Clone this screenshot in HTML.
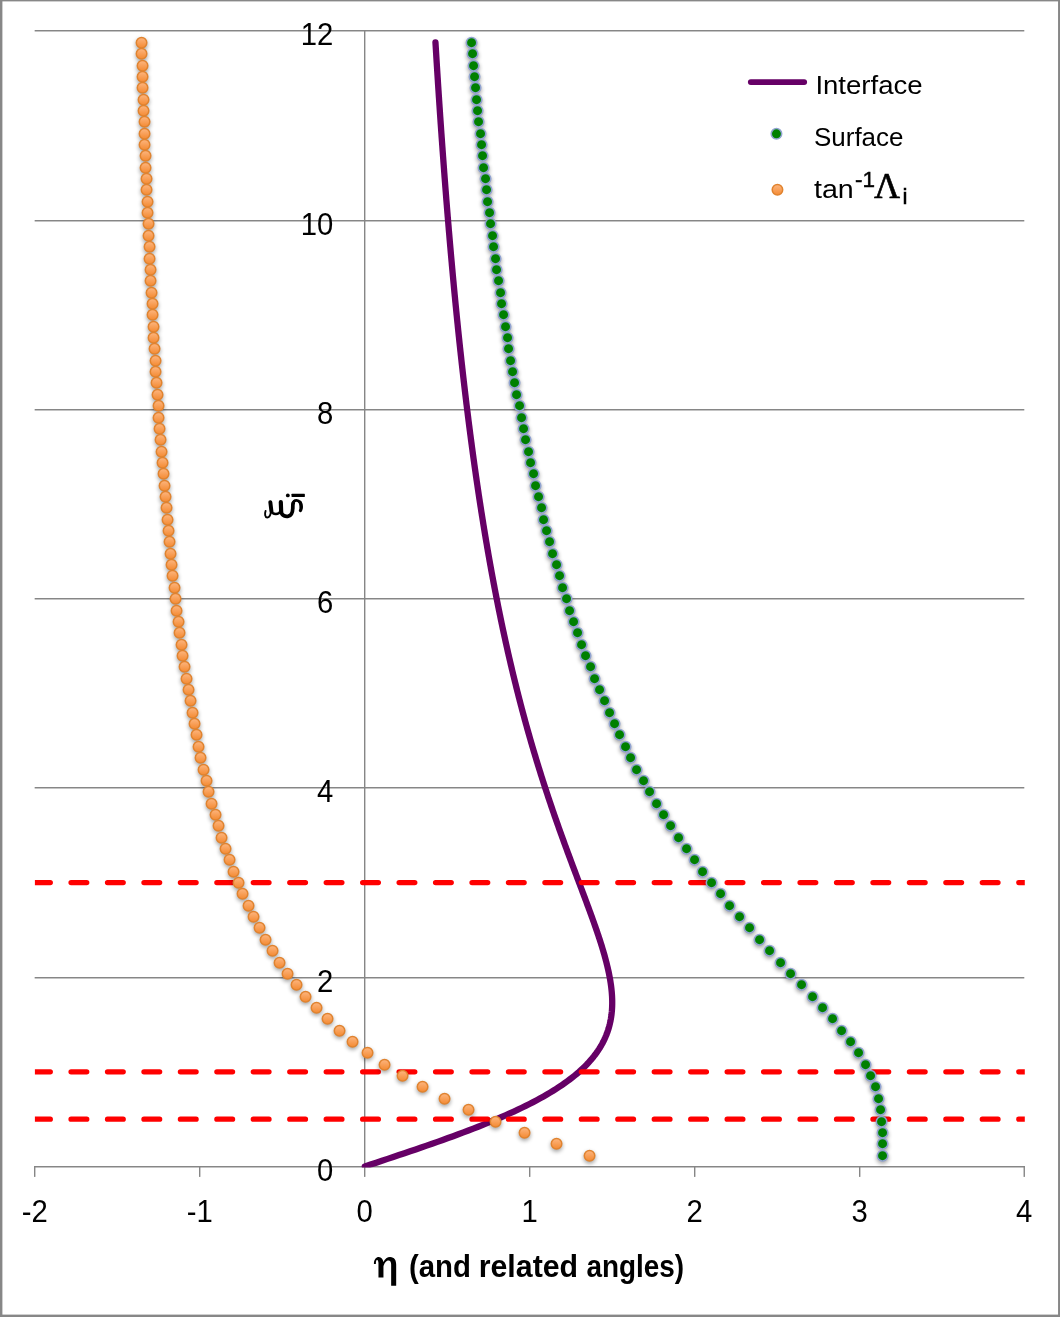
<!DOCTYPE html>
<html><head><meta charset="utf-8"><title>Bipolytrope angles</title>
<style>html,body{margin:0;padding:0;background:#fff;}svg{display:block;will-change:transform;}text{font-family:"Liberation Sans",sans-serif;fill:#000;}.ser{font-family:"Liberation Serif",serif;}</style></head><body>
<svg width="1060" height="1317" viewBox="0 0 1060 1317">
<defs>
<linearGradient id="og" x1="0" y1="0" x2="0" y2="1"><stop offset="0" stop-color="#fdb680"/><stop offset="1" stop-color="#f48a32"/></linearGradient>
<filter id="sh" x="-5%" y="-5%" width="110%" height="110%" color-interpolation-filters="sRGB"><feGaussianBlur in="SourceAlpha" stdDeviation="2"/><feOffset dx="0" dy="2.4" result="b"/><feComponentTransfer><feFuncA type="linear" slope="0.38"/></feComponentTransfer><feMerge><feMergeNode/><feMergeNode in="SourceGraphic"/></feMerge></filter>
<clipPath id="pc"><rect x="34.9" y="25" width="989.90" height="1142.40"/></clipPath>
</defs>
<rect x="0" y="0" width="1060" height="1317" fill="#fff"/>
<g fill="#878787"><rect x="0" y="0" width="1060" height="1.4"/><rect x="0" y="0" width="2.4" height="1317"/><rect x="1058.05" y="0" width="1.95" height="1317"/><rect x="0" y="1314.6" width="1060" height="2.4"/></g>
<g fill="#868686">
<rect x="34.66" y="30" width="989.64" height="1.48"/>
<rect x="34.66" y="220" width="989.64" height="1.48"/>
<rect x="34.66" y="409" width="989.64" height="1.48"/>
<rect x="34.66" y="598" width="989.64" height="1.48"/>
<rect x="34.66" y="787" width="989.64" height="1.48"/>
<rect x="34.66" y="977" width="989.64" height="1.48"/>
<rect x="34" y="1166" width="990.95" height="1.48"/>
<rect x="364" y="30" width="1.4" height="1137.4"/>
<rect x="34" y="1166" width="1.4" height="10.9"/>
<rect x="199" y="1166" width="1.4" height="10.9"/>
<rect x="364" y="1166" width="1.4" height="10.9"/>
<rect x="529" y="1166" width="1.4" height="10.9"/>
<rect x="694" y="1166" width="1.4" height="10.9"/>
<rect x="859" y="1166" width="1.4" height="10.9"/>
<rect x="1023.55" y="1166" width="1.4" height="10.9"/>
</g>
<g clip-path="url(#pc)">
<path d="M364.82,1166.45 L370.53,1164.56 L376.24,1162.66 L381.94,1160.77 L387.62,1158.88 L393.29,1156.99 L398.94,1155.10 L404.55,1153.20 L410.14,1151.31 L415.69,1149.42 L421.20,1147.53 L426.67,1145.63 L432.09,1143.74 L437.46,1141.85 L442.77,1139.96 L448.02,1138.06 L453.22,1136.17 L458.34,1134.28 L463.40,1132.38 L468.39,1130.49 L473.30,1128.60 L478.14,1126.71 L482.89,1124.82 L487.57,1122.92 L492.16,1121.03 L496.67,1119.14 L501.08,1117.25 L505.41,1115.35 L509.65,1113.46 L513.80,1111.57 L517.86,1109.67 L521.82,1107.78 L525.68,1105.89 L529.46,1104.00 L533.13,1102.11 L536.71,1100.21 L540.20,1098.32 L543.58,1096.43 L546.88,1094.54 L550.07,1092.64 L553.17,1090.75 L556.18,1088.86 L559.09,1086.97 L561.91,1085.07 L564.63,1083.18 L567.26,1081.29 L569.80,1079.39 L572.25,1077.50 L574.61,1075.61 L576.88,1073.72 L579.07,1071.83 L581.17,1069.93 L583.19,1068.04 L585.12,1066.15 L586.97,1064.26 L588.74,1062.36 L590.43,1060.47 L592.05,1058.58 L593.59,1056.68 L595.05,1054.79 L596.44,1052.90 L597.76,1051.01 L599.01,1049.12 L600.20,1047.22 L601.32,1045.33 L602.37,1043.44 L603.36,1041.55 L604.29,1039.65 L605.15,1037.76 L605.96,1035.87 L606.72,1033.97 L607.41,1032.08 L608.06,1030.19 L608.65,1028.30 L609.19,1026.40 L609.68,1024.51 L610.12,1022.62 L610.52,1020.73 L610.87,1018.84 L611.17,1016.94 L611.44,1015.05 L611.66,1013.16 L611.85,1011.27 L611.99,1009.37 L612.10,1007.48 L612.17,1005.59 L612.21,1003.70 L612.21,1001.80 L612.18,999.91 L612.12,998.02 L612.03,996.12 L611.91,994.23 L611.76,992.34 L611.59,990.45 L611.39,988.56 L611.16,986.66 L610.91,984.77 L610.63,982.88 L610.34,980.99 L610.02,979.09 L609.68,977.20 L609.32,975.31 L608.94,973.42 L608.54,971.52 L608.13,969.63 L607.69,967.74 L607.25,965.85 L606.78,963.95 L606.30,962.06 L605.81,960.17 L605.31,958.28 L604.79,956.38 L604.25,954.49 L603.71,952.60 L603.15,950.71 L602.59,948.81 L602.01,946.92 L601.43,945.03 L600.83,943.13 L600.23,941.24 L599.61,939.35 L598.99,937.46 L598.37,935.57 L597.73,933.67 L597.09,931.78 L596.44,929.89 L595.79,928.00 L595.13,926.10 L594.46,924.21 L593.79,922.32 L593.12,920.43 L592.44,918.53 L591.76,916.64 L591.07,914.75 L590.38,912.86 L589.69,910.96 L588.99,909.07 L588.29,907.18 L587.59,905.29 L586.89,903.39 L586.19,901.50 L585.48,899.61 L584.77,897.72 L584.06,895.82 L583.35,893.93 L582.64,892.04 L581.93,890.14 L581.21,888.25 L580.50,886.36 L579.78,884.47 L579.07,882.58 L578.36,880.68 L577.64,878.79 L576.93,876.90 L576.22,875.00 L575.50,873.11 L574.79,871.22 L574.08,869.33 L573.37,867.44 L572.66,865.54 L571.95,863.65 L571.24,861.76 L570.54,859.87 L569.83,857.97 L569.13,856.08 L568.43,854.19 L567.73,852.30 L567.03,850.40 L566.33,848.51 L565.64,846.62 L564.94,844.73 L564.25,842.83 L563.56,840.94 L562.88,839.05 L562.19,837.15 L561.51,835.26 L560.83,833.37 L560.15,831.48 L559.47,829.59 L558.80,827.69 L558.13,825.80 L557.46,823.91 L556.79,822.01 L556.13,820.12 L555.47,818.23 L554.81,816.34 L554.15,814.44 L553.50,812.55 L552.85,810.66 L552.20,808.77 L551.55,806.88 L550.91,804.98 L550.27,803.09 L549.63,801.20 L548.99,799.31 L548.36,797.41 L547.73,795.52 L547.11,793.63 L546.48,791.74 L545.86,789.84 L545.24,787.95 L544.63,786.06 L544.01,784.16 L543.40,782.27 L542.79,780.38 L542.19,778.49 L541.59,776.60 L540.99,774.70 L540.39,772.81 L539.80,770.92 L539.21,769.03 L538.62,767.13 L538.04,765.24 L537.46,763.35 L536.88,761.46 L536.30,759.56 L535.73,757.67 L535.16,755.78 L534.59,753.88 L534.02,751.99 L533.46,750.10 L532.90,748.21 L532.34,746.32 L531.79,744.42 L531.24,742.53 L530.69,740.64 L530.15,738.75 L529.60,736.85 L529.06,734.96 L528.53,733.07 L527.99,731.17 L527.46,729.28 L526.93,727.39 L526.40,725.50 L525.88,723.61 L525.36,721.71 L524.84,719.82 L524.32,717.93 L523.81,716.04 L523.30,714.14 L522.79,712.25 L522.29,710.36 L521.78,708.47 L521.28,706.57 L520.79,704.68 L520.29,702.79 L519.80,700.89 L519.31,699.00 L518.82,697.11 L518.34,695.22 L517.86,693.33 L517.38,691.43 L516.90,689.54 L516.42,687.65 L515.95,685.76 L515.48,683.86 L515.01,681.97 L514.55,680.08 L514.09,678.18 L513.63,676.29 L513.17,674.40 L512.71,672.51 L512.26,670.62 L511.81,668.72 L511.36,666.83 L510.92,664.94 L510.47,663.05 L510.03,661.15 L509.59,659.26 L509.15,657.37 L508.72,655.48 L508.29,653.58 L507.86,651.69 L507.43,649.80 L507.00,647.90 L506.58,646.01 L506.16,644.12 L505.74,642.23 L505.32,640.34 L504.91,638.44 L504.49,636.55 L504.08,634.66 L503.68,632.76 L503.27,630.87 L502.86,628.98 L502.46,627.09 L502.06,625.19 L501.66,623.30 L501.27,621.41 L500.87,619.52 L500.48,617.62 L500.09,615.73 L499.70,613.84 L499.32,611.95 L498.93,610.05 L498.55,608.16 L498.17,606.27 L497.79,604.38 L497.41,602.49 L497.04,600.59 L496.67,598.70 L496.30,596.81 L495.93,594.92 L495.56,593.02 L495.19,591.13 L494.83,589.24 L494.47,587.35 L494.11,585.45 L493.75,583.56 L493.39,581.67 L493.04,579.77 L492.69,577.88 L492.34,575.99 L491.99,574.10 L491.64,572.21 L491.29,570.31 L490.95,568.42 L490.61,566.53 L490.26,564.63 L489.93,562.74 L489.59,560.85 L489.25,558.96 L488.92,557.07 L488.59,555.17 L488.25,553.28 L487.93,551.39 L487.60,549.50 L487.27,547.60 L486.95,545.71 L486.62,543.82 L486.30,541.92 L485.98,540.03 L485.66,538.14 L485.35,536.25 L485.03,534.36 L484.72,532.46 L484.41,530.57 L484.09,528.68 L483.79,526.79 L483.48,524.89 L483.17,523.00 L482.87,521.11 L482.56,519.21 L482.26,517.32 L481.96,515.43 L481.66,513.54 L481.36,511.64 L481.07,509.75 L480.77,507.86 L480.48,505.97 L480.19,504.08 L479.89,502.18 L479.61,500.29 L479.32,498.40 L479.03,496.50 L478.74,494.61 L478.46,492.72 L478.18,490.83 L477.90,488.94 L477.62,487.04 L477.34,485.15 L477.06,483.26 L476.78,481.36 L476.51,479.47 L476.23,477.58 L475.96,475.69 L475.69,473.80 L475.42,471.90 L475.15,470.01 L474.88,468.12 L474.62,466.23 L474.35,464.33 L474.09,462.44 L473.82,460.55 L473.56,458.66 L473.30,456.76 L473.04,454.87 L472.78,452.98 L472.53,451.09 L472.27,449.19 L472.02,447.30 L471.76,445.41 L471.51,443.52 L471.26,441.62 L471.01,439.73 L470.76,437.84 L470.51,435.94 L470.26,434.05 L470.02,432.16 L469.77,430.27 L469.53,428.37 L469.29,426.48 L469.04,424.59 L468.80,422.70 L468.56,420.80 L468.33,418.91 L468.09,417.02 L467.85,415.13 L467.62,413.24 L467.38,411.34 L467.15,409.45 L466.92,407.56 L466.68,405.66 L466.45,403.77 L466.22,401.88 L466.00,399.99 L465.77,398.09 L465.54,396.20 L465.32,394.31 L465.09,392.42 L464.87,390.52 L464.65,388.63 L464.42,386.74 L464.20,384.85 L463.98,382.95 L463.76,381.06 L463.55,379.17 L463.33,377.28 L463.11,375.39 L462.90,373.49 L462.68,371.60 L462.47,369.71 L462.26,367.81 L462.05,365.92 L461.83,364.03 L461.62,362.14 L461.41,360.25 L461.21,358.35 L461.00,356.46 L460.79,354.57 L460.59,352.67 L460.38,350.78 L460.18,348.89 L459.97,347.00 L459.77,345.11 L459.57,343.21 L459.37,341.32 L459.17,339.43 L458.97,337.53 L458.77,335.64 L458.57,333.75 L458.38,331.86 L458.18,329.97 L457.99,328.07 L457.79,326.18 L457.60,324.29 L457.41,322.40 L457.21,320.50 L457.02,318.61 L456.83,316.72 L456.64,314.83 L456.45,312.93 L456.26,311.04 L456.08,309.15 L455.89,307.25 L455.70,305.36 L455.52,303.47 L455.33,301.58 L455.15,299.69 L454.97,297.79 L454.78,295.90 L454.60,294.01 L454.42,292.12 L454.24,290.22 L454.06,288.33 L453.88,286.44 L453.70,284.55 L453.53,282.65 L453.35,280.76 L453.17,278.87 L453.00,276.98 L452.82,275.08 L452.65,273.19 L452.47,271.30 L452.30,269.40 L452.13,267.51 L451.96,265.62 L451.79,263.73 L451.62,261.84 L451.45,259.94 L451.28,258.05 L451.11,256.16 L450.94,254.26 L450.77,252.37 L450.61,250.48 L450.44,248.59 L450.28,246.69 L450.11,244.80 L449.95,242.91 L449.78,241.02 L449.62,239.12 L449.46,237.23 L449.30,235.34 L449.14,233.45 L448.97,231.55 L448.81,229.66 L448.66,227.77 L448.50,225.88 L448.34,223.99 L448.18,222.09 L448.02,220.20 L447.87,218.31 L447.71,216.41 L447.56,214.52 L447.40,212.63 L447.25,210.74 L447.09,208.84 L446.94,206.95 L446.79,205.06 L446.64,203.17 L446.48,201.27 L446.33,199.38 L446.18,197.49 L446.03,195.60 L445.88,193.70 L445.74,191.81 L445.59,189.92 L445.44,188.03 L445.29,186.14 L445.15,184.24 L445.00,182.35 L444.85,180.46 L444.71,178.56 L444.56,176.67 L444.42,174.78 L444.28,172.89 L444.13,171.00 L443.99,169.10 L443.85,167.21 L443.71,165.32 L443.57,163.42 L443.43,161.53 L443.29,159.64 L443.15,157.75 L443.01,155.86 L442.87,153.96 L442.73,152.07 L442.59,150.18 L442.46,148.28 L442.32,146.39 L442.18,144.50 L442.05,142.61 L441.91,140.72 L441.78,138.82 L441.64,136.93 L441.51,135.04 L441.37,133.14 L441.24,131.25 L441.11,129.36 L440.98,127.47 L440.84,125.58 L440.71,123.68 L440.58,121.79 L440.45,119.90 L440.32,118.01 L440.19,116.11 L440.06,114.22 L439.93,112.33 L439.81,110.43 L439.68,108.54 L439.55,106.65 L439.42,104.76 L439.30,102.87 L439.17,100.97 L439.05,99.08 L438.92,97.19 L438.79,95.29 L438.67,93.40 L438.55,91.51 L438.42,89.62 L438.30,87.72 L438.18,85.83 L438.05,83.94 L437.93,82.05 L437.81,80.15 L437.69,78.26 L437.57,76.37 L437.45,74.48 L437.33,72.59 L437.21,70.69 L437.09,68.80 L436.97,66.91 L436.85,65.02 L436.73,63.12 L436.61,61.23 L436.50,59.34 L436.38,57.44 L436.26,55.55 L436.15,53.66 L436.03,51.77 L435.92,49.88 L435.80,47.98 L435.69,46.09 L435.57,44.20 L435.46,42.31" fill="none" stroke="#660066" stroke-width="6.3" stroke-linejoin="round" stroke-linecap="round"/>
<line x1="34.66" y1="882.58" x2="1030" y2="882.58" stroke="#ff0000" stroke-width="5.4" stroke-linecap="round" stroke-dasharray="15.6 20.85"/>
<line x1="34.66" y1="1071.83" x2="1030" y2="1071.83" stroke="#ff0000" stroke-width="5.4" stroke-linecap="round" stroke-dasharray="15.6 20.85"/>
<line x1="34.66" y1="1119.14" x2="1030" y2="1119.14" stroke="#ff0000" stroke-width="5.4" stroke-linecap="round" stroke-dasharray="15.6 20.85"/>
</g>
<g filter="url(#sh)">
<g fill="#008000" stroke="#90a3d0" stroke-width="1.55">
<circle cx="882.55" cy="1155.70" r="5.25"/>
<circle cx="882.55" cy="1143.70" r="5.25"/>
<circle cx="882.55" cy="1132.70" r="5.25"/>
<circle cx="881.55" cy="1121.70" r="5.25"/>
<circle cx="880.55" cy="1109.70" r="5.25"/>
<circle cx="878.55" cy="1098.70" r="5.25"/>
<circle cx="875.55" cy="1086.70" r="5.25"/>
<circle cx="870.55" cy="1075.70" r="5.25"/>
<circle cx="865.55" cy="1064.70" r="5.25"/>
<circle cx="858.55" cy="1052.70" r="5.25"/>
<circle cx="850.55" cy="1041.70" r="5.25"/>
<circle cx="841.55" cy="1030.70" r="5.25"/>
<circle cx="832.55" cy="1018.70" r="5.25"/>
<circle cx="822.55" cy="1007.70" r="5.25"/>
<circle cx="812.55" cy="996.70" r="5.25"/>
<circle cx="801.55" cy="984.70" r="5.25"/>
<circle cx="790.55" cy="973.70" r="5.25"/>
<circle cx="780.55" cy="962.70" r="5.25"/>
<circle cx="769.55" cy="950.70" r="5.25"/>
<circle cx="759.55" cy="939.70" r="5.25"/>
<circle cx="749.55" cy="927.70" r="5.25"/>
<circle cx="739.55" cy="916.70" r="5.25"/>
<circle cx="729.55" cy="905.70" r="5.25"/>
<circle cx="720.55" cy="893.70" r="5.25"/>
<circle cx="711.55" cy="882.70" r="5.25"/>
<circle cx="702.55" cy="871.70" r="5.25"/>
<circle cx="694.55" cy="859.70" r="5.25"/>
<circle cx="686.55" cy="848.70" r="5.25"/>
<circle cx="678.55" cy="837.70" r="5.25"/>
<circle cx="670.55" cy="825.70" r="5.25"/>
<circle cx="663.55" cy="814.70" r="5.25"/>
<circle cx="656.55" cy="803.70" r="5.25"/>
<circle cx="649.55" cy="791.70" r="5.25"/>
<circle cx="643.55" cy="780.70" r="5.25"/>
<circle cx="636.55" cy="769.70" r="5.25"/>
<circle cx="630.55" cy="757.70" r="5.25"/>
<circle cx="625.55" cy="746.70" r="5.25"/>
<circle cx="619.55" cy="734.70" r="5.25"/>
<circle cx="614.55" cy="723.70" r="5.25"/>
<circle cx="609.55" cy="712.70" r="5.25"/>
<circle cx="604.55" cy="700.70" r="5.25"/>
<circle cx="599.55" cy="689.70" r="5.25"/>
<circle cx="594.55" cy="678.70" r="5.25"/>
<circle cx="590.55" cy="666.70" r="5.25"/>
<circle cx="585.55" cy="655.70" r="5.25"/>
<circle cx="581.55" cy="644.70" r="5.25"/>
<circle cx="577.55" cy="632.70" r="5.25"/>
<circle cx="573.55" cy="621.70" r="5.25"/>
<circle cx="569.55" cy="610.70" r="5.25"/>
<circle cx="566.55" cy="598.70" r="5.25"/>
<circle cx="562.55" cy="587.70" r="5.25"/>
<circle cx="559.55" cy="575.70" r="5.25"/>
<circle cx="556.55" cy="564.70" r="5.25"/>
<circle cx="552.55" cy="553.70" r="5.25"/>
<circle cx="549.55" cy="541.70" r="5.25"/>
<circle cx="546.55" cy="530.70" r="5.25"/>
<circle cx="543.55" cy="519.70" r="5.25"/>
<circle cx="541.55" cy="507.70" r="5.25"/>
<circle cx="538.55" cy="496.70" r="5.25"/>
<circle cx="535.55" cy="485.70" r="5.25"/>
<circle cx="533.55" cy="473.70" r="5.25"/>
<circle cx="530.55" cy="462.70" r="5.25"/>
<circle cx="528.55" cy="451.70" r="5.25"/>
<circle cx="525.55" cy="439.70" r="5.25"/>
<circle cx="523.55" cy="428.70" r="5.25"/>
<circle cx="521.55" cy="417.70" r="5.25"/>
<circle cx="519.55" cy="405.70" r="5.25"/>
<circle cx="516.55" cy="394.70" r="5.25"/>
<circle cx="514.55" cy="382.70" r="5.25"/>
<circle cx="512.55" cy="371.70" r="5.25"/>
<circle cx="510.55" cy="360.70" r="5.25"/>
<circle cx="508.55" cy="348.70" r="5.25"/>
<circle cx="507.55" cy="337.70" r="5.25"/>
<circle cx="505.55" cy="326.70" r="5.25"/>
<circle cx="503.55" cy="314.70" r="5.25"/>
<circle cx="501.55" cy="303.70" r="5.25"/>
<circle cx="500.55" cy="292.70" r="5.25"/>
<circle cx="498.55" cy="280.70" r="5.25"/>
<circle cx="496.55" cy="269.70" r="5.25"/>
<circle cx="495.55" cy="258.70" r="5.25"/>
<circle cx="493.55" cy="246.70" r="5.25"/>
<circle cx="492.55" cy="235.70" r="5.25"/>
<circle cx="490.55" cy="223.70" r="5.25"/>
<circle cx="489.55" cy="212.70" r="5.25"/>
<circle cx="487.55" cy="201.70" r="5.25"/>
<circle cx="486.55" cy="189.70" r="5.25"/>
<circle cx="485.55" cy="178.70" r="5.25"/>
<circle cx="483.55" cy="167.70" r="5.25"/>
<circle cx="482.55" cy="155.70" r="5.25"/>
<circle cx="481.55" cy="144.70" r="5.25"/>
<circle cx="480.55" cy="133.70" r="5.25"/>
<circle cx="478.55" cy="121.70" r="5.25"/>
<circle cx="477.55" cy="110.70" r="5.25"/>
<circle cx="476.55" cy="99.70" r="5.25"/>
<circle cx="475.55" cy="87.70" r="5.25"/>
<circle cx="474.55" cy="76.70" r="5.25"/>
<circle cx="473.55" cy="65.70" r="5.25"/>
<circle cx="472.55" cy="53.70" r="5.25"/>
<circle cx="471.55" cy="42.70" r="5.25"/>
</g>
<g fill="url(#og)" stroke="#e0832f" stroke-width="1.5">
<circle cx="589.55" cy="1155.70" r="5.25"/>
<circle cx="556.55" cy="1143.70" r="5.25"/>
<circle cx="524.55" cy="1132.70" r="5.25"/>
<circle cx="495.55" cy="1121.70" r="5.25"/>
<circle cx="468.55" cy="1109.70" r="5.25"/>
<circle cx="444.55" cy="1098.70" r="5.25"/>
<circle cx="422.55" cy="1086.70" r="5.25"/>
<circle cx="402.55" cy="1075.70" r="5.25"/>
<circle cx="384.55" cy="1064.70" r="5.25"/>
<circle cx="367.55" cy="1052.70" r="5.25"/>
<circle cx="352.55" cy="1041.70" r="5.25"/>
<circle cx="339.55" cy="1030.70" r="5.25"/>
<circle cx="327.55" cy="1018.70" r="5.25"/>
<circle cx="316.55" cy="1007.70" r="5.25"/>
<circle cx="305.55" cy="996.70" r="5.25"/>
<circle cx="296.55" cy="984.70" r="5.25"/>
<circle cx="287.55" cy="973.70" r="5.25"/>
<circle cx="279.55" cy="962.70" r="5.25"/>
<circle cx="272.55" cy="950.70" r="5.25"/>
<circle cx="265.55" cy="939.70" r="5.25"/>
<circle cx="259.55" cy="927.70" r="5.25"/>
<circle cx="253.55" cy="916.70" r="5.25"/>
<circle cx="248.55" cy="905.70" r="5.25"/>
<circle cx="242.55" cy="893.70" r="5.25"/>
<circle cx="238.55" cy="882.70" r="5.25"/>
<circle cx="233.55" cy="871.70" r="5.25"/>
<circle cx="229.55" cy="859.70" r="5.25"/>
<circle cx="225.55" cy="848.70" r="5.25"/>
<circle cx="221.55" cy="837.70" r="5.25"/>
<circle cx="218.55" cy="825.70" r="5.25"/>
<circle cx="215.55" cy="814.70" r="5.25"/>
<circle cx="211.55" cy="803.70" r="5.25"/>
<circle cx="208.55" cy="791.70" r="5.25"/>
<circle cx="206.55" cy="780.70" r="5.25"/>
<circle cx="203.55" cy="769.70" r="5.25"/>
<circle cx="200.55" cy="757.70" r="5.25"/>
<circle cx="198.55" cy="746.70" r="5.25"/>
<circle cx="196.55" cy="734.70" r="5.25"/>
<circle cx="194.55" cy="723.70" r="5.25"/>
<circle cx="192.55" cy="712.70" r="5.25"/>
<circle cx="190.55" cy="700.70" r="5.25"/>
<circle cx="188.55" cy="689.70" r="5.25"/>
<circle cx="186.55" cy="678.70" r="5.25"/>
<circle cx="184.55" cy="666.70" r="5.25"/>
<circle cx="182.55" cy="655.70" r="5.25"/>
<circle cx="181.55" cy="644.70" r="5.25"/>
<circle cx="179.55" cy="632.70" r="5.25"/>
<circle cx="178.55" cy="621.70" r="5.25"/>
<circle cx="176.55" cy="610.70" r="5.25"/>
<circle cx="175.55" cy="598.70" r="5.25"/>
<circle cx="174.55" cy="587.70" r="5.25"/>
<circle cx="172.55" cy="575.70" r="5.25"/>
<circle cx="171.55" cy="564.70" r="5.25"/>
<circle cx="170.55" cy="553.70" r="5.25"/>
<circle cx="169.55" cy="541.70" r="5.25"/>
<circle cx="168.55" cy="530.70" r="5.25"/>
<circle cx="167.55" cy="519.70" r="5.25"/>
<circle cx="166.55" cy="507.70" r="5.25"/>
<circle cx="165.55" cy="496.70" r="5.25"/>
<circle cx="164.55" cy="485.70" r="5.25"/>
<circle cx="163.55" cy="473.70" r="5.25"/>
<circle cx="162.55" cy="462.70" r="5.25"/>
<circle cx="161.55" cy="451.70" r="5.25"/>
<circle cx="160.55" cy="439.70" r="5.25"/>
<circle cx="159.55" cy="428.70" r="5.25"/>
<circle cx="158.55" cy="417.70" r="5.25"/>
<circle cx="158.55" cy="405.70" r="5.25"/>
<circle cx="157.55" cy="394.70" r="5.25"/>
<circle cx="156.55" cy="382.70" r="5.25"/>
<circle cx="155.55" cy="371.70" r="5.25"/>
<circle cx="155.55" cy="360.70" r="5.25"/>
<circle cx="154.55" cy="348.70" r="5.25"/>
<circle cx="153.55" cy="337.70" r="5.25"/>
<circle cx="153.55" cy="326.70" r="5.25"/>
<circle cx="152.55" cy="314.70" r="5.25"/>
<circle cx="152.55" cy="303.70" r="5.25"/>
<circle cx="151.55" cy="292.70" r="5.25"/>
<circle cx="150.55" cy="280.70" r="5.25"/>
<circle cx="150.55" cy="269.70" r="5.25"/>
<circle cx="149.55" cy="258.70" r="5.25"/>
<circle cx="149.55" cy="246.70" r="5.25"/>
<circle cx="148.55" cy="235.70" r="5.25"/>
<circle cx="148.55" cy="223.70" r="5.25"/>
<circle cx="147.55" cy="212.70" r="5.25"/>
<circle cx="147.55" cy="201.70" r="5.25"/>
<circle cx="146.55" cy="189.70" r="5.25"/>
<circle cx="146.55" cy="178.70" r="5.25"/>
<circle cx="145.55" cy="167.70" r="5.25"/>
<circle cx="145.55" cy="155.70" r="5.25"/>
<circle cx="144.55" cy="144.70" r="5.25"/>
<circle cx="144.55" cy="133.70" r="5.25"/>
<circle cx="144.55" cy="121.70" r="5.25"/>
<circle cx="143.55" cy="110.70" r="5.25"/>
<circle cx="143.55" cy="99.70" r="5.25"/>
<circle cx="142.55" cy="87.70" r="5.25"/>
<circle cx="142.55" cy="76.70" r="5.25"/>
<circle cx="142.55" cy="65.70" r="5.25"/>
<circle cx="141.55" cy="53.70" r="5.25"/>
<circle cx="141.55" cy="42.70" r="5.25"/>
</g>
</g>
<text transform="translate(333.3,45.2) scale(0.957,1.0)" font-size="30.6" text-anchor="end">12</text>
<text transform="translate(333.3,235.2) scale(0.957,1.0)" font-size="30.6" text-anchor="end">10</text>
<text transform="translate(333.3,424.3) scale(0.957,1.0)" font-size="30.6" text-anchor="end">8</text>
<text transform="translate(333.3,613.3) scale(0.957,1.0)" font-size="30.6" text-anchor="end">6</text>
<text transform="translate(333.3,802.3) scale(0.957,1.0)" font-size="30.6" text-anchor="end">4</text>
<text transform="translate(333.3,992.3) scale(0.957,1.0)" font-size="30.6" text-anchor="end">2</text>
<text transform="translate(333.3,1181.1) scale(0.957,1.0)" font-size="30.6" text-anchor="end">0</text>
<text transform="translate(34.66,1222.0) scale(0.957,1.0)" font-size="30.6" text-anchor="middle">-2</text>
<text transform="translate(199.66,1222.0) scale(0.957,1.0)" font-size="30.6" text-anchor="middle">-1</text>
<text transform="translate(364.66,1222.0) scale(0.957,1.0)" font-size="30.6" text-anchor="middle">0</text>
<text transform="translate(529.66,1222.0) scale(0.957,1.0)" font-size="30.6" text-anchor="middle">1</text>
<text transform="translate(694.66,1222.0) scale(0.957,1.0)" font-size="30.6" text-anchor="middle">2</text>
<text transform="translate(859.66,1222.0) scale(0.957,1.0)" font-size="30.6" text-anchor="middle">3</text>
<text transform="translate(1024.25,1222.0) scale(0.957,1.0)" font-size="30.6" text-anchor="middle">4</text>
<path transform="translate(365,1245) scale(0.0566)" fill="#000" d="M158,336 C153,262 198,210 245,212 C288,214 316,248 325,300 C350,244 400,210 445,212 C520,215 551,268 551,350 L551,721 L462,721 L462,350 C462,302 445,276 415,276 C376,276 340,322 326,382 L326,573 L238,573 L238,332 C238,290 230,266 214,263 C198,261 192,290 192,336 Z"/>
<text transform="translate(409,1277) scale(0.948,1.0)" font-size="31" font-weight="bold">(and</text>
<text transform="translate(478.7,1277) scale(0.978,1.0)" font-size="31" font-weight="bold">related</text>
<text transform="translate(586.5,1277) scale(0.9,1.0)" font-size="31" font-weight="bold">angles)</text>
<g transform="translate(255,480) scale(0.0566)" fill="none" stroke="#000" stroke-linecap="round" stroke-linejoin="round"><path d="M187,548 C168,600 178,662 216,662 C252,662 274,620 282,560" stroke-width="34"/><path d="M271,392 L290,552" stroke-width="70"/><path d="M290,552 C312,612 418,622 450,552" stroke-width="42"/><path d="M456,392 L462,555" stroke-width="74"/><path d="M462,555 C472,640 548,646 590,638 C646,626 668,560 668,480 C668,440 670,420 674,410" stroke-width="66"/><path d="M668,430 C672,380 700,360 735,360 C790,360 816,420 812,490" stroke-width="46"/><path d="M796,392 C822,436 826,486 804,538" stroke-width="58"/><circle cx="580" cy="272" r="34" fill="#000" stroke="none"/><rect x="645" y="245" width="236" height="56" rx="8" fill="#000" stroke="none"/></g>
<line x1="750.8" y1="82.1" x2="804.2" y2="82.1" stroke="#660066" stroke-width="5.8" stroke-linecap="round"/>
<circle cx="776.45" cy="133.8" r="5.25" fill="#008000" stroke="#90a3d0" stroke-width="1.55"/>
<circle cx="777.45" cy="189.8" r="5.25" fill="url(#og)" stroke="#e0832f" stroke-width="1.5"/>
<text transform="translate(815.4,94.4) scale(1.04,1.0)" font-size="26.5">Interface</text>
<text transform="translate(814,145.5) scale(0.98,1.0)" font-size="26.5">Surface</text>
<text transform="translate(814,197.5) scale(1.08,1.0)" font-size="26.5">tan</text>
<text transform="translate(855,187)" font-size="22.5" stroke="#000" stroke-width="0.45">-1</text>
<text transform="translate(874,198.4)" font-size="36" class="ser" stroke="#000" stroke-width="0.6">Λ</text>
<text transform="translate(902.6,204.4)" font-size="22.5" stroke="#000" stroke-width="0.5">i</text>
</svg></body></html>
